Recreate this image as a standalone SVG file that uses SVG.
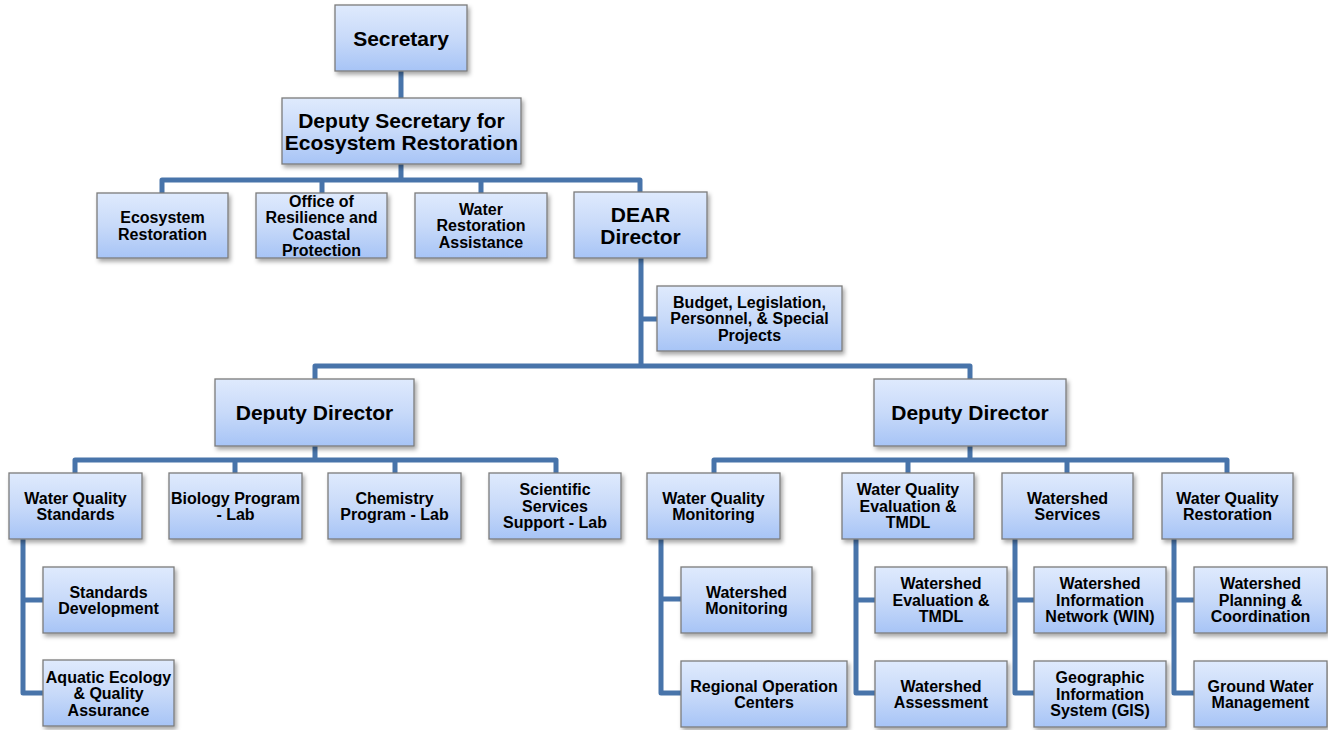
<svg xmlns="http://www.w3.org/2000/svg" width="1328" height="730" viewBox="0 0 1328 730">
<defs>
<linearGradient id="g" x1="0" y1="0" x2="0" y2="1">
<stop offset="0" stop-color="#dfeafd"/>
<stop offset="0.5" stop-color="#c8daf9"/>
<stop offset="1" stop-color="#a7c4f6"/>
</linearGradient>
<filter id="sh" x="-10%" y="-10%" width="125%" height="135%">
<feDropShadow dx="2" dy="3" stdDeviation="2" flood-color="#000" flood-opacity="0.35"/>
</filter>
<style>
.b{fill:url(#g);stroke:#7b7b7b;stroke-width:1.3;filter:url(#sh)}
.t{font-family:"Liberation Sans",Arial,sans-serif;font-weight:bold;font-size:16px;fill:#000;text-anchor:middle}
.L{font-size:21px}
.c{fill:none;stroke:#4874aa;stroke-width:5;stroke-linejoin:round}
</style>
</defs>
<rect width="1328" height="730" fill="#fff"/>
<g id="connectors" class="c">
<path d="M401 71V98"/>
<path d="M401 164V180M162 193V180H640V192M322 180V193M481 180V193"/>
<path d="M641 258V366M641 319H657M315 379V366H970V379"/>
<path d="M315 446V460M75 473V460H556V473M235 460V473M395 460V473"/>
<path d="M970 446V460M714 473V460H1227V473M908 460V473M1067 460V473"/>
<path d="M23 539V693H43M23 600H43"/>
<path d="M661 539V693H681M661 599H681"/>
<path d="M856 539V693H875M856 600H875"/>
<path d="M1015 539V693H1034M1015 600H1034"/>
<path d="M1174 539V693H1194M1174 600H1194"/>
</g>
<g id="sec"><rect class="b" x="335" y="5" width="132" height="66"/><text class="t L" x="401" y="45.6">Secretary</text></g>
<g id="depsec"><rect class="b" x="282" y="98" width="239" height="66"/><text class="t L" x="401.5"><tspan x="401.5" y="127.6">Deputy Secretary for</tspan><tspan x="401.5" y="149.6">Ecosystem Restoration</tspan></text></g>
<g id="eco"><rect class="b" x="97" y="193" width="131" height="65"/><text class="t" x="162.5"><tspan x="162.5" y="223">Ecosystem</tspan><tspan x="162.5" y="239.5">Restoration</tspan></text></g>
<g id="ocp"><rect class="b" x="256" y="193" width="131" height="65"/><text class="t" x="321.5"><tspan x="321.5" y="206.5">Office of</tspan><tspan x="321.5" y="223">Resilience and</tspan><tspan x="321.5" y="239.5">Coastal</tspan><tspan x="321.5" y="256">Protection</tspan></text></g>
<g id="wra"><rect class="b" x="415" y="193" width="132" height="65"/><text class="t" x="481"><tspan x="481" y="214.8">Water</tspan><tspan x="481" y="231.3">Restoration</tspan><tspan x="481" y="247.8">Assistance</tspan></text></g>
<g id="dear"><rect class="b" x="574" y="192" width="133" height="66"/><text class="t L" x="640.5"><tspan x="640.5" y="221.6">DEAR</tspan><tspan x="640.5" y="243.6">Director</tspan></text></g>
<g id="budget"><rect class="b" x="657" y="286" width="185" height="65"/><text class="t" x="749.5"><tspan x="749.5" y="307.8">Budget, Legislation,</tspan><tspan x="749.5" y="324.3">Personnel, &amp; Special</tspan><tspan x="749.5" y="340.8">Projects</tspan></text></g>
<g id="dd1"><rect class="b" x="215" y="379" width="199" height="67"/><text class="t L" x="314.5" y="420.1">Deputy Director</text></g>
<g id="dd2"><rect class="b" x="874" y="379" width="192" height="67"/><text class="t L" x="970" y="420.1">Deputy Director</text></g>
<g id="wqs"><rect class="b" x="9" y="473" width="133" height="66"/><text class="t" x="75.5"><tspan x="75.5" y="503.5">Water Quality</tspan><tspan x="75.5" y="520">Standards</tspan></text></g>
<g id="bio"><rect class="b" x="169" y="473" width="133" height="66"/><text class="t" x="235.5"><tspan x="235.5" y="503.5">Biology Program</tspan><tspan x="235.5" y="520">- Lab</tspan></text></g>
<g id="chem"><rect class="b" x="328" y="473" width="133" height="66"/><text class="t" x="394.5"><tspan x="394.5" y="503.5">Chemistry</tspan><tspan x="394.5" y="520">Program - Lab</tspan></text></g>
<g id="sci"><rect class="b" x="489" y="473" width="132" height="66"/><text class="t" x="555"><tspan x="555" y="495.3">Scientific</tspan><tspan x="555" y="511.8">Services</tspan><tspan x="555" y="528.3">Support - Lab</tspan></text></g>
<g id="sd"><rect class="b" x="43" y="567" width="131" height="66"/><text class="t" x="108.5"><tspan x="108.5" y="597.5">Standards</tspan><tspan x="108.5" y="614">Development</tspan></text></g>
<g id="aeqa"><rect class="b" x="43" y="660" width="131" height="66"/><text class="t" x="108.5"><tspan x="108.5" y="682.8">Aquatic Ecology</tspan><tspan x="108.5" y="699.3">&amp; Quality</tspan><tspan x="108.5" y="715.8">Assurance</tspan></text></g>
<g id="wqm"><rect class="b" x="647" y="473" width="133" height="66"/><text class="t" x="713.5"><tspan x="713.5" y="503.5">Water Quality</tspan><tspan x="713.5" y="520">Monitoring</tspan></text></g>
<g id="wqe"><rect class="b" x="842" y="473" width="132" height="66"/><text class="t" x="908"><tspan x="908" y="495.3">Water Quality</tspan><tspan x="908" y="511.8">Evaluation &amp;</tspan><tspan x="908" y="528.3">TMDL</tspan></text></g>
<g id="ws"><rect class="b" x="1002" y="473" width="131" height="66"/><text class="t" x="1067.5"><tspan x="1067.5" y="503.5">Watershed</tspan><tspan x="1067.5" y="520">Services</tspan></text></g>
<g id="wqr"><rect class="b" x="1162" y="473" width="131" height="66"/><text class="t" x="1227.5"><tspan x="1227.5" y="503.5">Water Quality</tspan><tspan x="1227.5" y="520">Restoration</tspan></text></g>
<g id="wm"><rect class="b" x="681" y="567" width="131" height="66"/><text class="t" x="746.5"><tspan x="746.5" y="597.5">Watershed</tspan><tspan x="746.5" y="614">Monitoring</tspan></text></g>
<g id="roc"><rect class="b" x="681" y="661" width="166" height="66"/><text class="t" x="764"><tspan x="764" y="691.5">Regional Operation</tspan><tspan x="764" y="708">Centers</tspan></text></g>
<g id="wet"><rect class="b" x="875" y="567" width="132" height="66"/><text class="t" x="941"><tspan x="941" y="589.3">Watershed</tspan><tspan x="941" y="605.8">Evaluation &amp;</tspan><tspan x="941" y="622.3">TMDL</tspan></text></g>
<g id="wa"><rect class="b" x="875" y="661" width="132" height="66"/><text class="t" x="941"><tspan x="941" y="691.5">Watershed</tspan><tspan x="941" y="708">Assessment</tspan></text></g>
<g id="win"><rect class="b" x="1034" y="567" width="132" height="66"/><text class="t" x="1100"><tspan x="1100" y="589.3">Watershed</tspan><tspan x="1100" y="605.8">Information</tspan><tspan x="1100" y="622.3">Network (WIN)</tspan></text></g>
<g id="gis"><rect class="b" x="1034" y="661" width="132" height="66"/><text class="t" x="1100"><tspan x="1100" y="683.3">Geographic</tspan><tspan x="1100" y="699.8">Information</tspan><tspan x="1100" y="716.3">System (GIS)</tspan></text></g>
<g id="wpc"><rect class="b" x="1194" y="567" width="133" height="66"/><text class="t" x="1260.5"><tspan x="1260.5" y="589.3">Watershed</tspan><tspan x="1260.5" y="605.8">Planning &amp;</tspan><tspan x="1260.5" y="622.3">Coordination</tspan></text></g>
<g id="gwm"><rect class="b" x="1194" y="661" width="133" height="66"/><text class="t" x="1260.5"><tspan x="1260.5" y="691.5">Ground Water</tspan><tspan x="1260.5" y="708">Management</tspan></text></g>
</svg>
